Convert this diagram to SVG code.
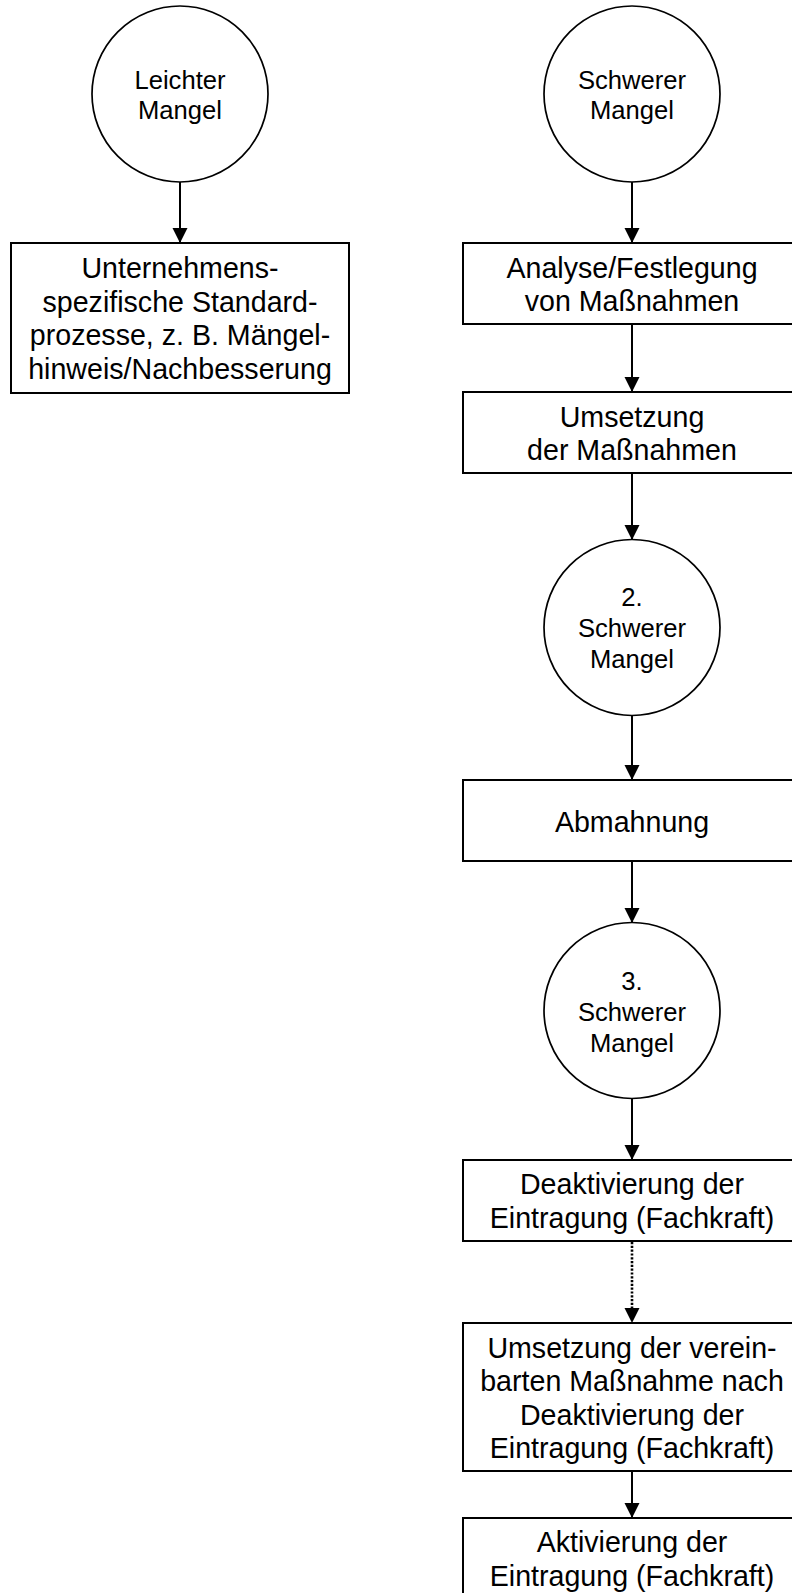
<svg xmlns="http://www.w3.org/2000/svg" width="792" height="1593" viewBox="0 0 792 1593">
<style>
.n{fill:#fff;stroke:#000;stroke-width:2}
.c{fill:#fff;stroke:#000;stroke-width:1.7}
.t{font-family:"Liberation Sans",Arial,sans-serif;font-size:28.6px;fill:#000;text-anchor:middle}
.ct{font-family:"Liberation Sans",Arial,sans-serif;font-size:25.6px;fill:#000;text-anchor:middle}
.e{stroke:#000;stroke-width:2;fill:none}
.d{stroke:#000;stroke-width:2.6;fill:none;stroke-dasharray:2.2 1.6}
</style>
<defs>
<marker id="ah" markerUnits="userSpaceOnUse" markerWidth="16" markerHeight="16" refX="15" refY="7.5" orient="auto">
<path d="M0,0 L15,7.5 L0,15 z" fill="#000"/>
</marker>
</defs>
<rect width="792" height="1593" fill="#fff"/>
<g id="connectors">
<line class="e" x1="180" y1="182" x2="180" y2="243" marker-end="url(#ah)"/>
<line class="e" x1="632" y1="182" x2="632" y2="243" marker-end="url(#ah)"/>
<line class="e" x1="632" y1="324" x2="632" y2="392" marker-end="url(#ah)"/>
<line class="e" x1="632" y1="473" x2="632" y2="540" marker-end="url(#ah)"/>
<line class="e" x1="632" y1="715" x2="632" y2="780" marker-end="url(#ah)"/>
<line class="e" x1="632" y1="861" x2="632" y2="923" marker-end="url(#ah)"/>
<line class="e" x1="632" y1="1098" x2="632" y2="1160" marker-end="url(#ah)"/>
<line class="d" x1="632" y1="1242" x2="632" y2="1310"/>
<line x1="632" y1="1306" x2="632" y2="1323" stroke="none" marker-end="url(#ah)"/>
<line class="e" x1="632" y1="1471" x2="632" y2="1518" marker-end="url(#ah)"/>
</g>
<g id="leichter">
<circle class="c" cx="180" cy="94" r="88"/>
<text class="ct" x="180" y="89">Leichter</text>
<text class="ct" x="180" y="119">Mangel</text>
</g>
<g id="standard">
<rect class="n" x="11" y="243" width="338" height="150"/>
<text class="t" x="180" y="278">Unternehmens-</text>
<text class="t" x="180" y="311.5">spezifische Standard-</text>
<text class="t" x="180" y="345">prozesse, z. B. Mängel-</text>
<text class="t" x="180" y="378.5">hinweis/Nachbesserung</text>
</g>
<g id="schwerer">
<circle class="c" cx="632" cy="94" r="88"/>
<text class="ct" x="632" y="89">Schwerer</text>
<text class="ct" x="632" y="119">Mangel</text>
</g>
<g id="analyse">
<rect class="n" x="463" y="243" width="339" height="81"/>
<text class="t" x="632" y="277.5">Analyse/Festlegung</text>
<text class="t" x="632" y="311">von Maßnahmen</text>
</g>
<g id="umsetzung">
<rect class="n" x="463" y="392" width="339" height="81"/>
<text class="t" x="632" y="426.5">Umsetzung</text>
<text class="t" x="632" y="460">der Maßnahmen</text>
</g>
<g id="schwerer2">
<circle class="c" cx="632" cy="627.5" r="88"/>
<text class="ct" x="632" y="606">2.</text>
<text class="ct" x="632" y="637">Schwerer</text>
<text class="ct" x="632" y="668">Mangel</text>
</g>
<g id="abmahnung">
<rect class="n" x="463" y="780" width="339" height="81"/>
<text class="t" x="632" y="831.5">Abmahnung</text>
</g>
<g id="schwerer3">
<circle class="c" cx="632" cy="1010.5" r="88"/>
<text class="ct" x="632" y="990">3.</text>
<text class="ct" x="632" y="1021">Schwerer</text>
<text class="ct" x="632" y="1052">Mangel</text>
</g>
<g id="deaktivierung">
<rect class="n" x="463" y="1160" width="339" height="81"/>
<text class="t" x="632" y="1194">Deaktivierung der</text>
<text class="t" x="632" y="1227.5">Eintragung (Fachkraft)</text>
</g>
<g id="umsetzung2">
<rect class="n" x="463" y="1323" width="339" height="148"/>
<text class="t" x="632" y="1357.5">Umsetzung der verein-</text>
<text class="t" x="632" y="1391">barten Maßnahme nach</text>
<text class="t" x="632" y="1424.5">Deaktivierung der</text>
<text class="t" x="632" y="1458">Eintragung (Fachkraft)</text>
</g>
<g id="aktivierung">
<rect class="n" x="463" y="1518" width="339" height="81"/>
<text class="t" x="632" y="1552">Aktivierung der</text>
<text class="t" x="632" y="1585.5">Eintragung (Fachkraft)</text>
</g>
</svg>
